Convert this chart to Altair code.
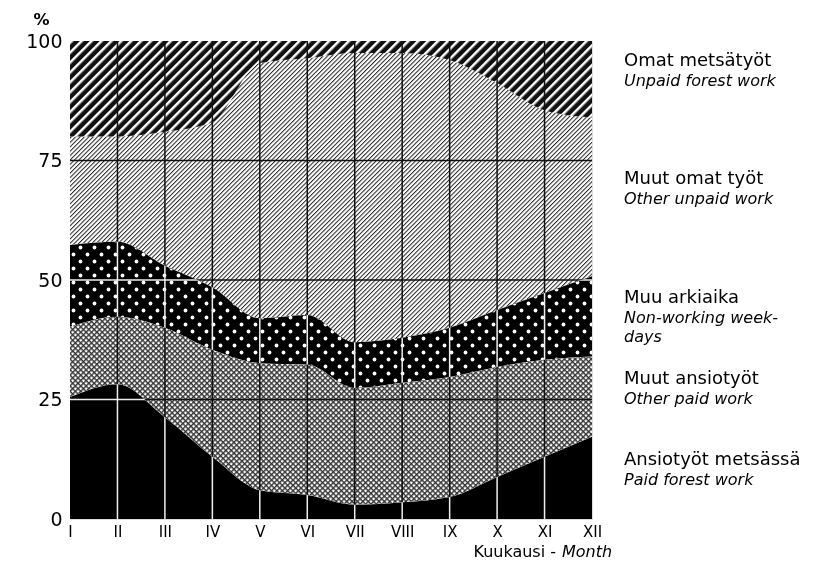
import altair as alt
import pandas as pd
import jinja2

# ---------------- data ----------------
months = ["I", "II", "III", "IV", "V", "VI", "VII", "VIII", "IX", "X", "XI", "XII"]

series_fi = ["Ansiotyöt metsässä", "Muut ansiotyöt", "Muu arkiaika",
             "Muut omat työt", "Omat metsätyöt"]
series_en = ["Paid forest work", "Other paid work", "Non-working week-\ndays",
             "Other unpaid work", "Unpaid forest work"]

# share of time, % (bottom to top)
paid_forest   = [25.5, 28.2, 21.3, 13.0, 6.0, 5.0, 3.0, 3.5, 4.6, 8.8, 13.0, 17.2]
other_paid    = [14.7, 14.1, 18.7, 22.4, 26.6, 27.3, 24.4, 25.0, 25.1, 23.0, 20.3, 16.8]
non_working   = [17.1, 15.7, 13.0, 13.1, 9.4, 10.4, 9.6, 9.4, 10.3, 11.9, 14.0, 16.8]
other_unpaid  = [22.7, 22.0, 28.0, 34.5, 53.4, 53.7, 60.5, 59.6, 56.0, 47.5, 38.2, 33.2]
unpaid_forest = [20.0, 20.0, 19.0, 17.0, 4.6, 3.6, 2.5, 2.5, 4.0, 8.8, 14.5, 16.0]

y_ticks = [0, 25, 50, 75, 100]

series_values = [paid_forest, other_paid, non_working, other_unpaid, unpaid_forest]

rows = []
for k, (fi, en, vals) in enumerate(zip(series_fi, series_en, series_values)):
    for m, v in zip(months, vals):
        rows.append({"month": m, "series": fi, "english": en, "value": v, "order": k})
df = pd.DataFrame(rows)

grid_x = pd.DataFrame({"month": months[1:-1]})
grid_y = pd.DataFrame({"y": y_ticks[1:-1]})

# ---------------- styles ----------------
FONT = "DejaVu Sans"
# the two dark bands are painted light first and inverted afterwards, so that
# the grid lines show white on them and black elsewhere (as in the print)
dark_series = [series_fi[0], series_fi[2]]
fills = ["#ffffff", "url(#pCross) #888888", "url(#pDotsInv) #cccccc",
         "url(#pFine) #dddddd", "url(#pBold) #444444"]

W, H = 522, 478
xscale = alt.Scale(type="point", domain=months, padding=0)
yscale = alt.Scale(domain=[0, 100], nice=False, zero=True)

XAXIS = alt.Axis(title=None, labelAngle=0, labelFontSize=15, labelPadding=5,
                 ticks=False, domain=False, grid=False, labelOverlap=False,
                 labelColor="black", labelFont=FONT)
YAXIS = alt.Axis(values=y_ticks, title="%", titleAngle=0, titleAlign="center",
                 titleBaseline="alphabetic", titleX=-29, titleY=-17,
                 titleFontSize=16, titleFontWeight="bold", titleFont=FONT,
                 titleColor="black",
                 labelFontSize=19, labelPadding=8, labelColor="black",
                 labelFont=FONT, ticks=False, domain=False, grid=False)

X = alt.X("month:O", scale=xscale, sort=months, axis=XAXIS)

stacked = alt.Chart(df).transform_stack(
    stack="value", groupby=["month"], as_=["lo", "hi"],
    sort=[alt.SortField("order", order="ascending")]
)

areas = stacked.mark_area(interpolate="monotone", opacity=1, strokeWidth=0).encode(
    x=X,
    y=alt.Y("lo:Q", scale=yscale, axis=YAXIS),
    y2="hi:Q",
    fill=alt.Fill("series:N", scale=alt.Scale(domain=series_fi, range=fills), legend=None),
    detail="series:N",
)

vrules = alt.Chart(grid_x).mark_rule(color="#111111", strokeWidth=1.5).encode(x=X)
hrules = alt.Chart(grid_y).mark_rule(color="#111111", strokeWidth=1.5).encode(
    y=alt.Y("y:Q", scale=yscale, axis=YAXIS)
)

invert = stacked.transform_filter(
    alt.FieldOneOfPredicate(field="series", oneOf=dark_series)
).mark_area(interpolate="monotone", opacity=1, strokeWidth=0, fill="white",
            blend="difference").encode(
    x=X,
    y=alt.Y("lo:Q", scale=yscale, axis=YAXIS),
    y2="hi:Q",
    detail="series:N",
)

label_base = stacked.transform_filter(alt.datum.month == "XII").transform_calculate(
    mid="(datum.lo + datum.hi) / 2"
)

fi_text = label_base.mark_text(align="left", baseline="alphabetic", dy=-13,
                               fontSize=18, font=FONT, color="black").encode(
    x=alt.value(W + 32),
    y=alt.Y("mid:Q", scale=yscale, axis=YAXIS),
    text="series:N",
)
en_text = label_base.mark_text(align="left", baseline="alphabetic", dy=7,
                               fontSize=16, font=FONT, fontStyle="italic",
                               lineBreak="\n", lineHeight=19, color="black").encode(
    x=alt.value(W + 32),
    y=alt.Y("mid:Q", scale=yscale, axis=YAXIS),
    text="english:N",
)

title_df = pd.DataFrame({"fi": ["Kuukausi -"], "en": ["Month"]})
xt_fi = alt.Chart(title_df).mark_text(align="right", baseline="alphabetic", fontSize=16,
                                      font=FONT, color="black").encode(
    x=alt.value(W - 36), y=alt.value(H + 38), text="fi:N")
xt_en = alt.Chart(title_df).mark_text(align="left", baseline="alphabetic", fontSize=16,
                                      font=FONT, fontStyle="italic", color="black").encode(
    x=alt.value(W - 30), y=alt.value(H + 38), text="en:N")

chart = alt.layer(areas, vrules, hrules, invert, fi_text, en_text, xt_fi, xt_en).properties(
    width=W, height=H,
    autosize=alt.AutoSizeParams(type="none"),
    padding={"left": 62, "top": 33, "right": 216, "bottom": 42},
    background="white",
).configure_view(stroke="#111111", strokeWidth=3.5).configure(font=FONT)

# ---------------- page with the hatch patterns ----------------
DEFS = """
<svg width="0" height="0" style="position:absolute;width:0;height:0;overflow:hidden" aria-hidden="true">
<defs>
<pattern id="pBold" patternUnits="userSpaceOnUse" width="7" height="7" patternTransform="rotate(45)">
<rect width="7" height="7" fill="#111"/>
<rect x="0" y="0" width="2.5" height="7" fill="#fff"/>
</pattern>
<pattern id="pFine" patternUnits="userSpaceOnUse" width="3.1" height="3.1" patternTransform="rotate(45)">
<rect width="3.1" height="3.1" fill="#fff"/>
<rect x="0" y="0" width="1" height="3.1" fill="#222"/>
</pattern>
<pattern id="pDotsInv" patternUnits="userSpaceOnUse" width="14" height="14">
<rect width="14" height="14" fill="#fff"/>
<circle cx="3.5" cy="3.5" r="1.9" fill="#000"/>
<circle cx="10.5" cy="10.5" r="1.9" fill="#000"/>
</pattern>
<pattern id="pCross" patternUnits="userSpaceOnUse" width="3.8" height="3.8" patternTransform="rotate(45)">
<rect width="3.8" height="3.8" fill="#fff"/>
<rect x="0" y="0" width="1.4" height="3.8" fill="#333"/>
<rect x="0" y="0" width="3.8" height="1.4" fill="#333"/>
</pattern>
</defs>
</svg>
"""

PAGE = jinja2.Template("""<!DOCTYPE html>
<html>
<head>
<meta charset="utf-8">
<style>
#{{ output_div }}.vega-embed { width: 100%; display: flex; }
</style>
<script type="text/javascript" src="{{ base_url }}/vega@{{ vega_version }}"></script>
<script type="text/javascript" src="{{ base_url }}/vega-lite@{{ vegalite_version }}"></script>
<script type="text/javascript" src="{{ base_url }}/vega-embed@{{ vegaembed_version }}"></script>
</head>
<body>
""" + DEFS + """
<div id="{{ output_div }}"></div>
<script>
(function(vegaEmbed) {
  var spec = {{ spec }};
  var embedOpt = {{ embed_options }};
  var el = document.getElementById('{{ output_div }}');
  vegaEmbed("#{{ output_div }}", spec, embedOpt).catch(function (error) {
    el.innerHTML = '<div style="color:red;">JavaScript Error: ' + error.message + '</div>';
    throw error;
  });
})(vegaEmbed);
</script>
</body>
</html>
""")

try:
    chart.save("out.html", embed_options={"renderer": "svg", "actions": False}, template=PAGE)
except TypeError:
    chart.save("out.html", embed_options={"renderer": "svg", "actions": False})
